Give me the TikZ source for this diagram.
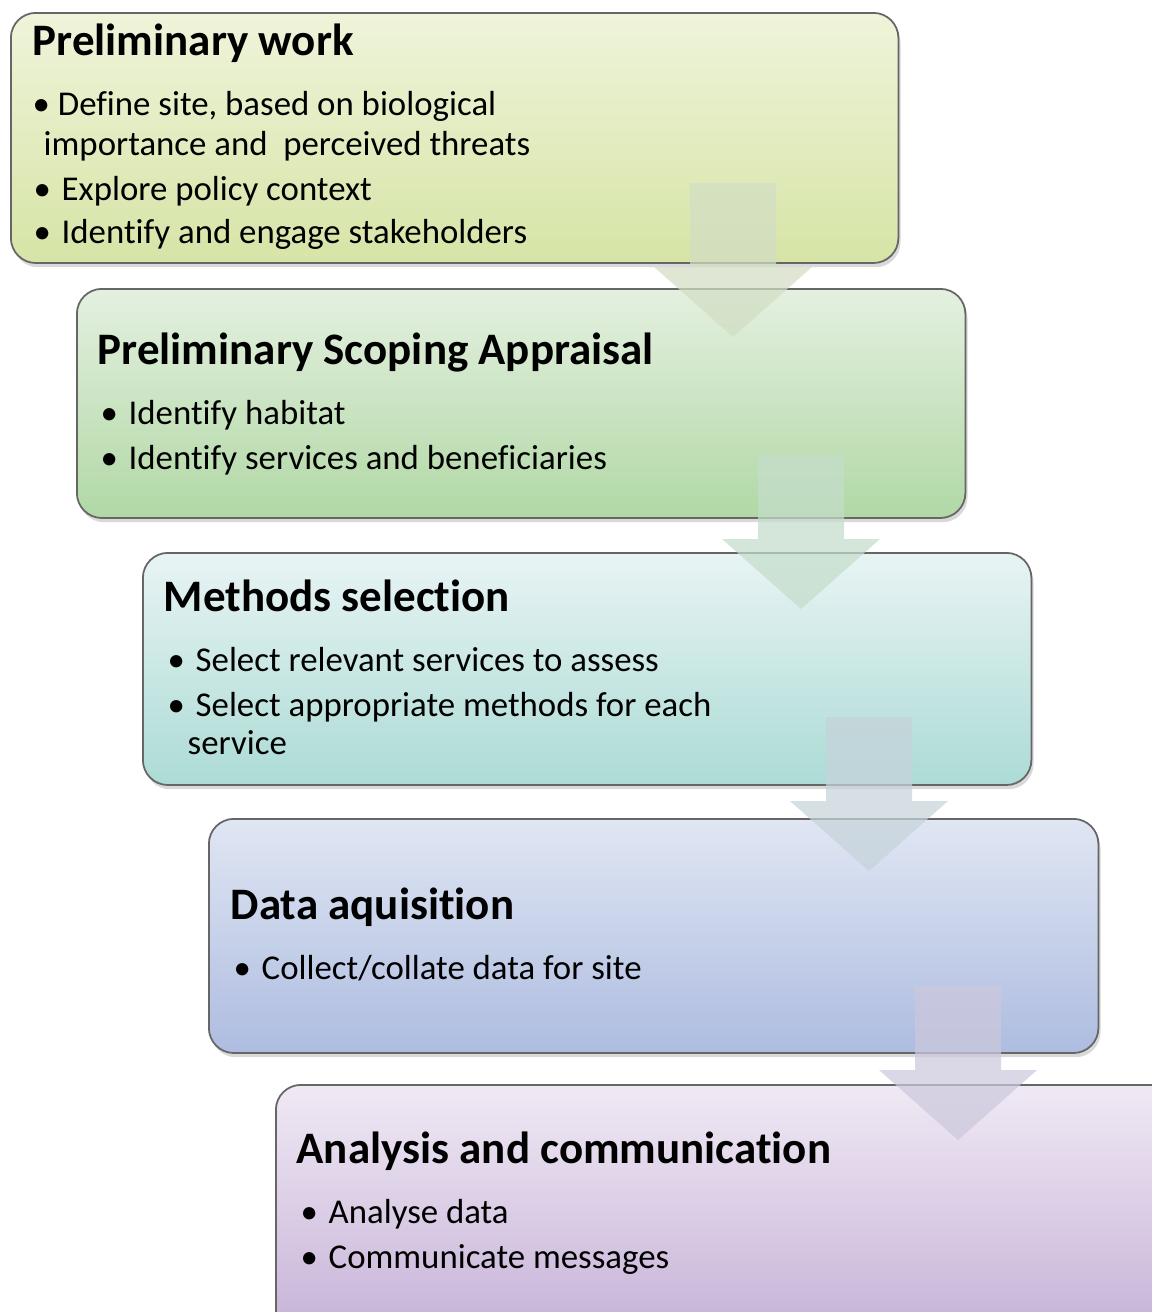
\documentclass[tikz,border=0pt]{standalone}
\usepackage{fontspec}
\setmainfont{Carlito}[Ligatures={NoCommon}]
\usetikzlibrary{shadows}

\definecolor{pwtop}{HTML}{EFF4DA}\definecolor{pwbot}{HTML}{D6E4A6}
\definecolor{psatop}{HTML}{E4F0E0}\definecolor{psabot}{HTML}{B1D8A5}
\definecolor{mstop}{HTML}{E8F4F4}\definecolor{msbot}{HTML}{ACDBD5}
\definecolor{datop}{HTML}{E0E6F3}\definecolor{dabot}{HTML}{ADBCE0}
\definecolor{actop}{HTML}{F0E9F4}\definecolor{acbot}{HTML}{C4B0D6}
\definecolor{arrA}{HTML}{D2DEC4}
\definecolor{arrB}{HTML}{C4DDCB}
\definecolor{arrC}{HTML}{C6D3DA}
\definecolor{arrD}{HTML}{CCC8DC}

\tikzset{
  stage/.style={draw=black!60, line width=0.5pt, rounded corners=0.25cm,
    anchor=north west, inner sep=0pt,
    drop shadow={shadow xshift=0.6pt, shadow yshift=-1.2pt, opacity=0.3}},
  stagetitle/.style={anchor=base west, inner sep=0pt,
    font=\fontsize{12.8}{15}\selectfont\bfseries},
  itemtxt/.style={anchor=base west, inner sep=0pt,
    font=\fontsize{9.9}{11.8}\selectfont},
}
\newcommand{\blt}{\makebox[0.28cm][l]{\textbullet}}

\begin{document}
\begin{tikzpicture}[x=0.01cm, y=-0.01cm]
\useasboundingbox (0,0) rectangle (1152,1312);
\clip (0,0) rectangle (1152,1312);

\node[stage, top color=pwtop, bottom color=pwbot, minimum width=8.87cm, minimum height=2.50cm] (pw) at (10,12) {};
\node[stage, top color=psatop, bottom color=psabot, minimum width=8.88cm, minimum height=2.29cm] (psa) at (76,288) {};
\node[stage, top color=mstop, bottom color=msbot, minimum width=8.88cm, minimum height=2.32cm] (ms) at (142,552) {};
\node[stage, top color=datop, bottom color=dabot, minimum width=8.89cm, minimum height=2.34cm] (da) at (208,818) {};
\node[stage, top color=actop, bottom color=acbot, minimum width=9.20cm, minimum height=2.60cm] (ac) at (275,1084) {};

% stage texts
\node[stagetitle] (pw-h) at (32,55) {Preliminary work};
\node[itemtxt] (pw-a) at (32,115) {\textbullet\ Define site, based on biological};
\node[itemtxt] (pw-b) at (43,155) {importance and\ \ perceived threats};
\node[itemtxt] (pw-c) at (33,200) {\blt Explore policy context};
\node[itemtxt] (pw-d) at (33,243) {\blt Identify and engage stakeholders};

\node[stagetitle] (psa-h) at (97,364) {Preliminary Scoping Appraisal};
\node[itemtxt] (psa-a) at (100,424) {\blt Identify habitat};
\node[itemtxt] (psa-b) at (100,469) {\blt Identify services and beneficiaries};

\node[stagetitle] (ms-h) at (163,611) {Methods selection};
\node[itemtxt] (ms-a) at (167,671) {\blt Select relevant services to assess};
\node[itemtxt] (ms-b) at (167,716) {\blt Select appropriate methods for each};
\node[itemtxt] (ms-c) at (187,754) {service};

\node[stagetitle] (da-h) at (230,919) {Data aquisition};
\node[itemtxt] (da-a) at (233,979) {\blt Collect/collate data for site};

\node[stagetitle] (ac-h) at (296,1163) {Analysis and communication};
\node[itemtxt] (ac-a) at (300,1223) {\blt Analyse data};
\node[itemtxt] (ac-b) at (300,1268) {\blt Communicate messages};

% block arrows between the stages
\foreach \cx/\ty/\col in {733/183/arrA, 801/455/arrB, 869/717/arrC, 958/986/arrD}{
  \fill[\col, opacity=0.72] (\cx-43,\ty) -- (\cx+43,\ty) -- (\cx+43,\ty+84) -- (\cx+79,\ty+84)
    -- (\cx,\ty+154) -- (\cx-79,\ty+84) -- (\cx-43,\ty+84) -- cycle;
}
\end{tikzpicture}
\end{document}
